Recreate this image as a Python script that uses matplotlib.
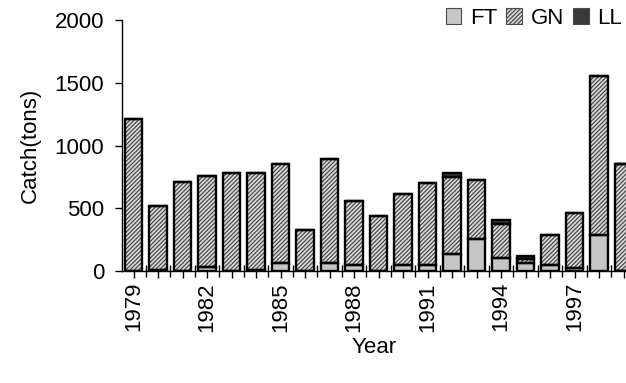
import numpy as np
import matplotlib
matplotlib.use("Agg")
import matplotlib.pyplot as plt
from matplotlib.patches import Patch

plt.rcParams["font.family"] = ["Liberation Sans", "DejaVu Sans"]
plt.rcParams["hatch.linewidth"] = 0.9

# Catch by gear type (tons)
years = list(range(1979, 2000))
ft = [0, 12, 0, 30, 0, 12, 65, 0, 65, 45, 0, 45, 50, 135, 255, 100, 61, 45, 25, 290, 0]
gn = [1210, 505, 710, 730, 780, 768, 790, 330, 825, 510, 440, 565, 655, 617, 470,
      272, 32, 245, 440, 1262, 855]
ll = [0, 0, 0, 0, 0, 0, 0, 0, 0, 0, 0, 0, 0, 26, 0, 32, 27, 0, 0, 0, 0]

fig = plt.figure(figsize=(6.26, 3.83), dpi=100)
ax = fig.add_axes([0.195, 0.2924, 0.805, 0.6554])

x = np.arange(len(years))
w = 0.72
ft = np.array(ft, dtype=float)
gn = np.array(gn, dtype=float)
ll = np.array(ll, dtype=float)

styles = [
    ("FT", ft, np.zeros_like(ft), "#c6c6c6", None),
    ("GN", gn, ft, "#dcdcdc", "////////"),
    ("LL", ll, ft + gn, "#3a3a3a", None),
]
handles = []
for name, vals, base, fc, hatch in styles:
    # fill (with hatch drawn in dark grey), then a black outline on top
    ax.bar(x, vals, w, bottom=base, color=fc, hatch=hatch,
           edgecolor="#4a4a4a", linewidth=0, zorder=2)
    ax.bar(x, vals, w, bottom=base, fill=False, edgecolor="black",
           linewidth=1.7, zorder=3)
    handles.append(Patch(facecolor=fc, hatch=hatch, edgecolor="#4a4a4a",
                         linewidth=0.8, label=name))

ax.set_xlim(-0.47, 20.1)
ax.set_ylim(0, 2000)
ax.set_yticks([0, 500, 1000, 1500, 2000])
ax.set_xticks(x)
ax.set_xticklabels([str(y) if (y - 1979) % 3 == 0 else "" for y in years],
                   rotation=90)
ax.set_xticks(x[:-1] + 0.5, minor=True)
ax.tick_params(axis="x", which="major", direction="out", length=5, width=1,
               labelsize=16, pad=3)
ax.tick_params(axis="x", which="minor", direction="inout", length=8, width=1)
ax.tick_params(axis="y", direction="out", length=5, width=1, labelsize=16,
               pad=8)

for side in ("top", "right"):
    ax.spines[side].set_visible(False)
for side in ("left", "bottom"):
    ax.spines[side].set_linewidth(1)
    ax.spines[side].set_color("black")

ax.set_xlabel("Year", fontsize=16, labelpad=4)
ax.set_ylabel("Catch(tons)", fontsize=16, labelpad=10)

ax.legend(handles=handles, loc="upper right", ncol=3, frameon=False,
          fontsize=16, handlelength=0.7, handleheight=0.7, handletextpad=0.4,
          columnspacing=0.4, borderaxespad=0, bbox_to_anchor=(1.01, 1.085))

fig.savefig("out.png", dpi=100)
